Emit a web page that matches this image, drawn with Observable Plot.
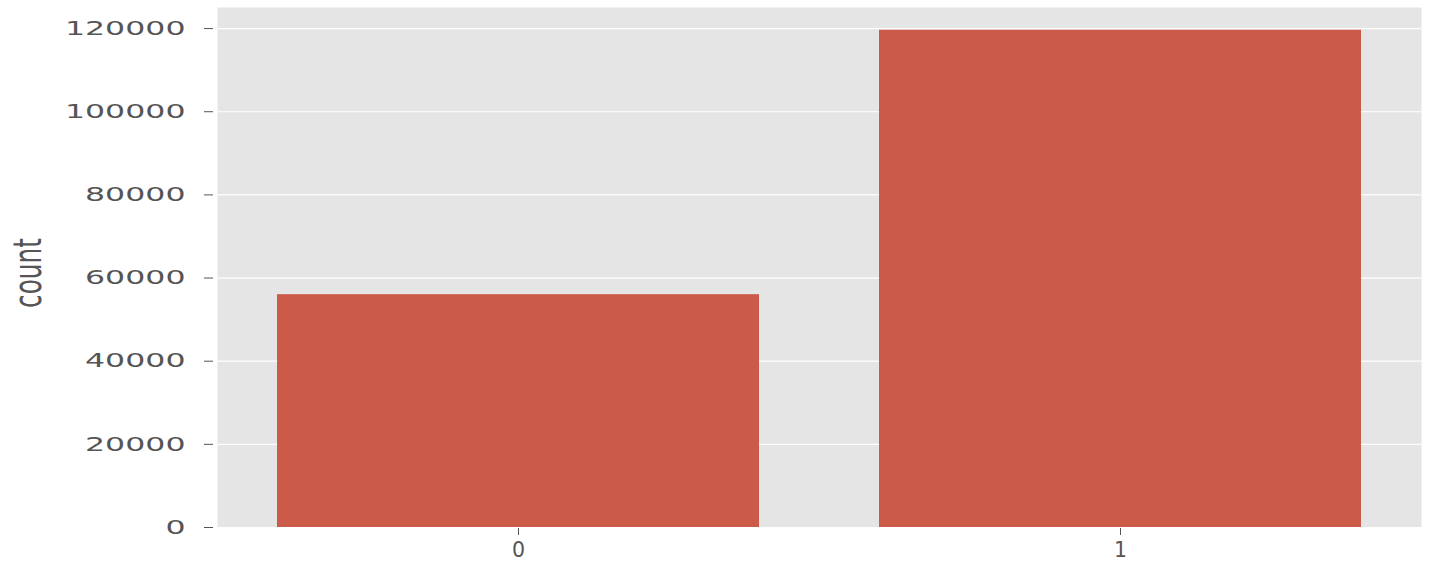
<!DOCTYPE html>
<html><head><meta charset="utf-8">
<script src="https://cdn.jsdelivr.net/npm/d3@7"></script>
<script src="https://cdn.jsdelivr.net/npm/@observablehq/plot@0.6"></script>
<style>body{margin:0;background:#fff}</style>
</head><body><div id="chart"></div>
<script>
const categories = ["0", "1"];
const counts = [56000, 119600];
const yTicks = [0, 20000, 40000, 60000, 80000, 100000, 120000];
const yLabel = "count";

const data = categories.map((c, i) => ({cat: c, count: counts[i]}));

const W = 1429, H = 564, mL = 217, mR = 8, mT = 7, mB = 37;

const chart = Plot.plot({
  width: W, height: H,
  marginLeft: mL, marginRight: mR, marginTop: mT, marginBottom: mB,
  style: {fontFamily: "DejaVu Sans", fontSize: "19.5px", color: "#555", background: "#fff"},
  x: {domain: categories, paddingInner: 0.2, paddingOuter: 0.1, label: null},
  y: {domain: [0, 125070], label: null},
  marks: [
    Plot.frame({fill: "#E5E5E5", stroke: "none"}),
    Plot.gridY(yTicks, {stroke: "#fff", strokeOpacity: 1, strokeWidth: 1.2}),
    Plot.barY(data, {x: "cat", y: "count", fill: "#CC5A49"}),
    Plot.axisY(yTicks, {tickFormat: d => String(d), tickSize: 9, dx: -4, tickPadding: 19, label: null}),
    Plot.axisX({tickSize: 7, dy: 1, tickPadding: 7, fontSize: 20.5, label: null}),
    Plot.text([yLabel], {frameAnchor: "left", text: d => d, fontSize: 24.8, fill: "#555"})
  ]
});
document.getElementById("chart").appendChild(chart);

// stretch y tick labels horizontally (keeping right edge fixed)
chart.querySelectorAll('g[aria-label="y-axis tick label"] text').forEach(t => {
  let tr = t.getAttribute("transform") || "";
  const x = t.getAttribute("x");
  if (x && !x.includes("em")) { tr += ` translate(${x},0)`; t.removeAttribute("x"); }
  t.setAttribute("transform", tr + " scale(1.62,1)");
});

// y-axis title: rotated, stretched along the screen x direction
chart.querySelectorAll("text").forEach(t => {
  if (t.textContent !== yLabel) return;
  const g = t.parentNode;
  if (g && g.getAttribute) { g.removeAttribute("transform"); g.removeAttribute("text-anchor"); }
  ["x", "y", "dy", "dx"].forEach(a => t.removeAttribute(a));
  t.setAttribute("text-anchor", "middle");
  t.style.textAnchor = "middle";
  t.setAttribute("transform", `translate(${mL - 176},${(mT + H - mB) / 2 + 6}) scale(1.55,1) rotate(-90)`);
});
</script>
</body></html>
